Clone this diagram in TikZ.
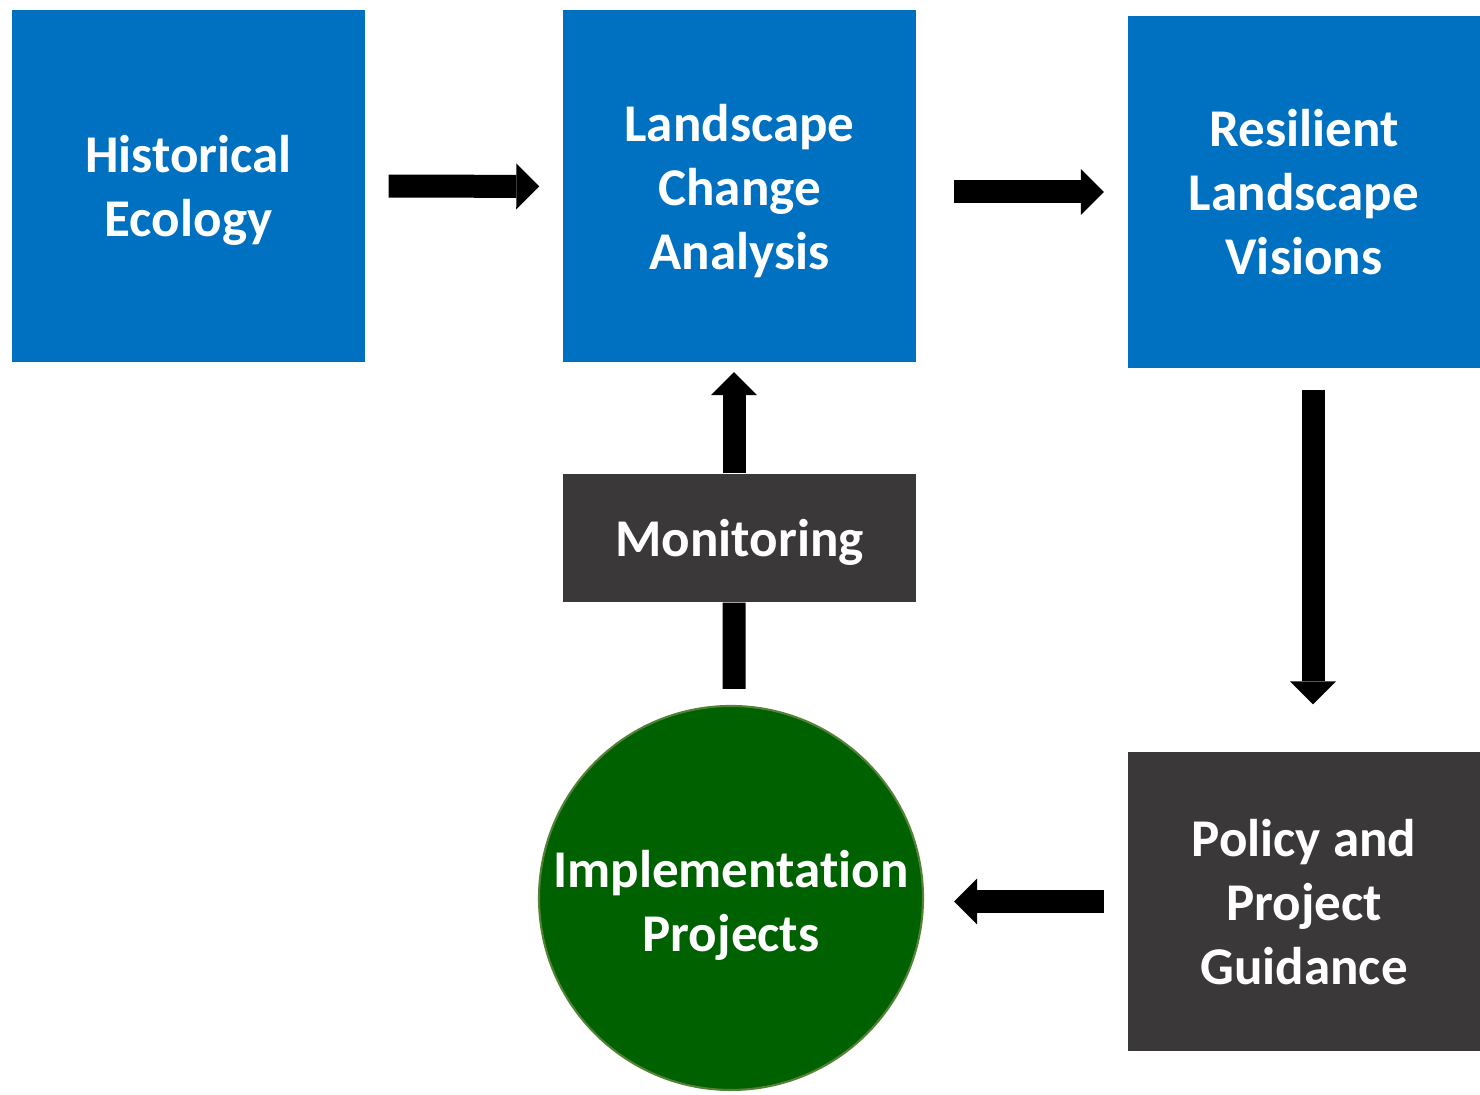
\documentclass[tikz,border=0pt]{standalone}
\usepackage{fontspec}
\setmainfont{Carlito}[Ligatures=NoCommon]
\usepackage{tikz}
\usetikzlibrary{arrows.meta, positioning, shapes.geometric}
\definecolor{boxblue}{HTML}{0070C0}
\definecolor{boxgray}{HTML}{3A3838}
\definecolor{projgreen}{HTML}{006100}
\definecolor{projedge}{HTML}{548235}

\begin{document}
\begin{tikzpicture}[
    box/.style = {rectangle, fill=boxblue, text=white, align=center, inner sep=0pt,
        minimum width=3.53cm, minimum height=3.52cm,
        font=\bfseries\fontsize{15.1}{18.2}\selectfont},
    darkbox/.style = {box, fill=boxgray},
    projcircle/.style = {circle, fill=projgreen, draw=projedge, line width=0.6pt,
        text=white, align=center, inner sep=0pt, minimum size=3.84cm,
        font=\bfseries\fontsize{15.1}{18.2}\selectfont},
    bigarrow/.style = {line width=2.3mm,
        -{Triangle[length=2.3mm, width=4.6mm, line width=0pt]}}
]
    % Page size
    \useasboundingbox (0,0) rectangle (14.8,10.95);

    % Top row of boxes
    \node[box] (hist) at (1.885,9.09) {Historical\\\smash{Ecology}};
    \node[box] (lca) at (7.395,9.085) {Landscape\\Change\\\smash{Analysis}};
    \node[box] (rlv) at (13.04,9.03) {Resilient\\Landscape\\\smash{Visions}};

    % Monitoring and guidance
    \node[darkbox, minimum height=1.28cm, text height=10.4pt, text depth=0pt] (mon) at (7.395,5.57) {Monitoring};
    \node[darkbox, minimum height=2.99cm] (ppg) at (13.04,1.935) {Policy and\\Project\\\smash{Guidance}};

    % Projects
    \node[projcircle] (impl) at (7.31,1.97) {\rule{0pt}{12pt}Implementation\\\smash{Projects}};

    % Arrows between steps
    \draw[bigarrow, shorten <=2.3mm, shorten >=2.3mm] (hist.east) -- (lca.west);
    \draw[bigarrow, shorten <=3.7mm, shorten >=2.3mm] (lca.east |- rlv.west) -- (rlv.west);
    \draw[bigarrow, shorten <=2.1mm, shorten >=4.7mm] ([xshift=0.9mm]rlv.south) -- ([xshift=0.9mm]ppg.north);
    \draw[bigarrow, shorten <=2.3mm, shorten >=3mm] (ppg.west) -- (impl.east |- ppg.west);

    % Feedback through monitoring
    \draw[line width=2.3mm, shorten >=1.6mm] ([xshift=-0.55mm]mon.south) -- ([xshift=0.3mm]impl.north);
    \draw[bigarrow, shorten >=0.9mm] ([xshift=-0.55mm]mon.north) -- ([xshift=-0.55mm]lca.south);
\end{tikzpicture}
\end{document}
